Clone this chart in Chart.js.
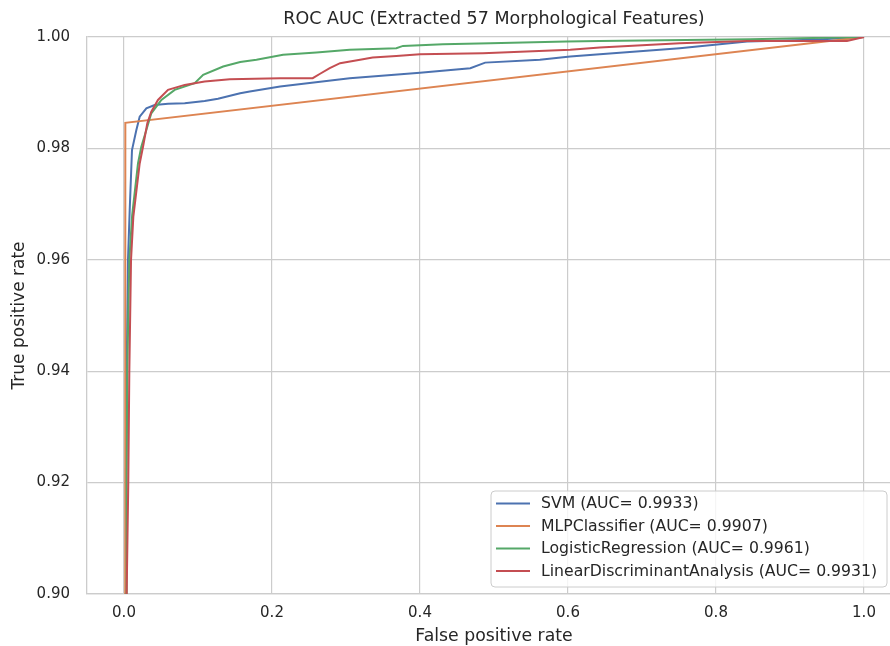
<!DOCTYPE html>
<html>
<head>
<meta charset="utf-8">
<script src="https://cdn.jsdelivr.net/npm/chart.js@4.4.0/dist/chart.umd.min.js"></script>
<style>
  html, body { margin: 0; padding: 0; background: #ffffff; overflow: hidden; width: 890px; height: 646px; }
  #wrap { position: absolute; left: 0; top: 0; width: 905px; height: 646px; }
</style>
</head>
<body>
<div id="wrap"><canvas id="c" width="905" height="646"></canvas></div>
<script>
// ---- data ----
const chartTitle = "ROC AUC (Extracted 57 Morphological Features)";
const xTitle = "False positive rate";
const yTitle = "True positive rate";

const seriesLabels = [
  "SVM (AUC= 0.9933)",
  "MLPClassifier (AUC= 0.9907)",
  "LogisticRegression (AUC= 0.9961)",
  "LinearDiscriminantAnalysis (AUC= 0.9931)"
];
const seriesColors = ["#4c72b0", "#dd8452", "#55a868", "#c44e52"];

const svmFpr = [0, 0.0020, 0.0027, 0.0036, 0.0054, 0.0077, 0.0108, 0.0167, 0.0212, 0.0302, 0.0414, 0.0595, 0.082, 0.109, 0.127, 0.157, 0.170, 0.211, 0.228, 0.305, 0.400, 0.468, 0.488, 0.562, 0.603, 0.643, 0.751, 0.805, 0.842, 0.931, 1.0];
const svmTpr = [0, 0.9000, 0.9200, 0.9400, 0.9600, 0.9689, 0.9797, 0.9833, 0.9857, 0.9872, 0.9878, 0.9880, 0.9881, 0.9885, 0.9889, 0.9899, 0.9902, 0.9911, 0.9914, 0.9926, 0.9936, 0.9944, 0.9954, 0.9959, 0.9965, 0.9969, 0.9980, 0.9987, 0.9992, 0.9995, 1.0];

const mlpFpr = [0, 0.0018, 1.0];
const mlpTpr = [0, 0.9846, 1.0];

const lrFpr = [0, 0.0031, 0.0036, 0.0045, 0.0072, 0.0110, 0.0189, 0.0234, 0.0302, 0.0369, 0.0505, 0.0685, 0.0955, 0.107, 0.134, 0.157, 0.179, 0.215, 0.260, 0.305, 0.368, 0.377, 0.431, 0.495, 0.598, 0.643, 0.846, 1.0];
const lrTpr = [0, 0.9000, 0.9200, 0.9400, 0.9600, 0.9680, 0.9773, 0.9803, 0.9833, 0.9863, 0.9887, 0.9905, 0.9917, 0.9932, 0.9947, 0.9955, 0.9959, 0.9968, 0.9972, 0.9977, 0.9980, 0.9984, 0.9987, 0.9989, 0.9992, 0.9993, 0.9996, 1.0];

const ldaFpr = [0, 0.0036, 0.0058, 0.0072, 0.0095, 0.0126, 0.0212, 0.0257, 0.0315, 0.0369, 0.0459, 0.0595, 0.082, 0.109, 0.143, 0.211, 0.255, 0.265, 0.278, 0.292, 0.319, 0.336, 0.368, 0.400, 0.485, 0.603, 0.643, 0.751, 0.842, 0.977, 1.0];
const ldaTpr = [0, 0.9000, 0.9200, 0.9400, 0.9600, 0.9677, 0.9773, 0.9803, 0.9845, 0.9866, 0.9887, 0.9905, 0.9914, 0.9920, 0.9924, 0.9926, 0.9926, 0.9934, 0.9944, 0.9953, 0.9959, 0.9963, 0.9966, 0.9969, 0.9971, 0.9977, 0.9981, 0.9989, 0.9993, 0.9993, 1.0];

const xTickValues = [0, 0.2, 0.4, 0.6, 0.8, 1.0];
const xTickLabels = ["0.0", "0.2", "0.4", "0.6", "0.8", "1.0"];
const yTickValues = [0.90, 0.92, 0.94, 0.96, 0.98, 1.00];
const yTickLabels = ["0.90", "0.92", "0.94", "0.96", "0.98", "1.00"];

// ---- build datasets ----
const fprs = [svmFpr, mlpFpr, lrFpr, ldaFpr];
const tprs = [svmTpr, mlpTpr, lrTpr, ldaTpr];
const datasets = seriesLabels.map((lab, i) => ({
  label: lab,
  data: fprs[i].map((x, k) => ({ x: x, y: tprs[i][k] })),
  borderColor: seriesColors[i],
  backgroundColor: seriesColors[i],
  borderWidth: 2,
  pointRadius: 0,
  pointHoverRadius: 0,
  tension: 0,
  fill: false,
  order: 3 - i
}));

const FONT = "'DejaVu Sans', 'Liberation Sans', sans-serif";
const TEXT = "#262626";
const GRID = "#cccccc";

// custom legend drawn inside the plot, lower right (like matplotlib loc="lower right")
const insideLegend = {
  id: "insideLegend",
  afterDatasetsDraw(chart) {
    const ctx = chart.ctx;
    const x0 = 491, y0 = 491, x1 = 887, y1 = 587, r = 4;
    ctx.save();
    ctx.beginPath();
    ctx.moveTo(x0 + r, y0);
    ctx.lineTo(x1 - r, y0); ctx.arcTo(x1, y0, x1, y0 + r, r);
    ctx.lineTo(x1, y1 - r); ctx.arcTo(x1, y1, x1 - r, y1, r);
    ctx.lineTo(x0 + r, y1); ctx.arcTo(x0, y1, x0, y1 - r, r);
    ctx.lineTo(x0, y0 + r); ctx.arcTo(x0, y0, x0 + r, y0, r);
    ctx.closePath();
    ctx.fillStyle = "rgba(255,255,255,0.8)";
    ctx.fill();
    ctx.lineWidth = 1;
    ctx.strokeStyle = GRID;
    ctx.stroke();
    const rows = [503.5, 526, 548.5, 571];
    ctx.font = "15.7px " + FONT;
    ctx.textBaseline = "middle";
    ctx.textAlign = "left";
    chart.data.datasets.forEach((ds, i) => {
      const y = rows[i];
      ctx.beginPath();
      ctx.moveTo(496, y);
      ctx.lineTo(530, y);
      ctx.strokeStyle = ds.borderColor;
      ctx.lineWidth = 2;
      ctx.stroke();
      ctx.fillStyle = TEXT;
      ctx.fillText(ds.label, 541, y + 0.5);
    });
    ctx.restore();
  }
};

new Chart(document.getElementById("c"), {
  type: "line",
  data: { datasets: datasets },
  plugins: [insideLegend],
  options: {
    responsive: false,
    animation: false,
    devicePixelRatio: 1,
    parsing: true,
    layout: { padding: { left: 0, right: 4, top: 0, bottom: 0 } },
    plugins: {
      legend: { display: false },
      tooltip: { enabled: false },
      title: {
        display: true,
        fullSize: false,
        text: chartTitle,
        color: TEXT,
        font: { family: FONT, size: 17.5, weight: "normal", lineHeight: 1.2 },
        padding: { top: 8.5, bottom: 7.5 }
      }
    },
    scales: {
      x: {
        type: "linear",
        min: -0.05,
        max: 1.05,
        afterBuildTicks: (axis) => { axis.ticks = xTickValues.map(v => ({ value: v })); },
        afterFit: (axis) => { axis.height = 52; },
        ticks: {
          color: TEXT,
          font: { family: FONT, size: 15 },
          padding: 10,
          maxRotation: 0,
          autoSkip: false,
          callback: (v) => { const k = xTickValues.findIndex(t => Math.abs(t - v) < 1e-9); return k >= 0 ? xTickLabels[k] : ""; }
        },
        grid: { color: GRID, lineWidth: 1.2, drawTicks: false },
        border: { display: true, color: GRID, width: 1.3 },
        title: {
          display: true,
          text: xTitle,
          color: TEXT,
          font: { family: FONT, size: 17.3, lineHeight: 1.05 },
          padding: { top: 0, bottom: 0 }
        }
      },
      y: {
        type: "linear",
        min: 0.90,
        max: 1.00,
        afterBuildTicks: (axis) => { axis.ticks = yTickValues.map(v => ({ value: v })); },
        afterFit: (axis) => { axis.width = 87; },
        ticks: {
          color: TEXT,
          font: { family: FONT, size: 15 },
          padding: 17,
          autoSkip: false,
          callback: (v) => { const k = yTickValues.findIndex(t => Math.abs(t - v) < 1e-9); return k >= 0 ? yTickLabels[k] : ""; }
        },
        grid: { color: GRID, lineWidth: 1.2, drawTicks: false },
        border: { display: true, color: GRID, width: 1.3 },
        title: {
          display: true,
          text: yTitle,
          color: TEXT,
          font: { family: FONT, size: 17, lineHeight: 1.2 },
          padding: { top: 9.5, bottom: 0 }
        }
      }
    }
  }
});
</script>
</body>
</html>
